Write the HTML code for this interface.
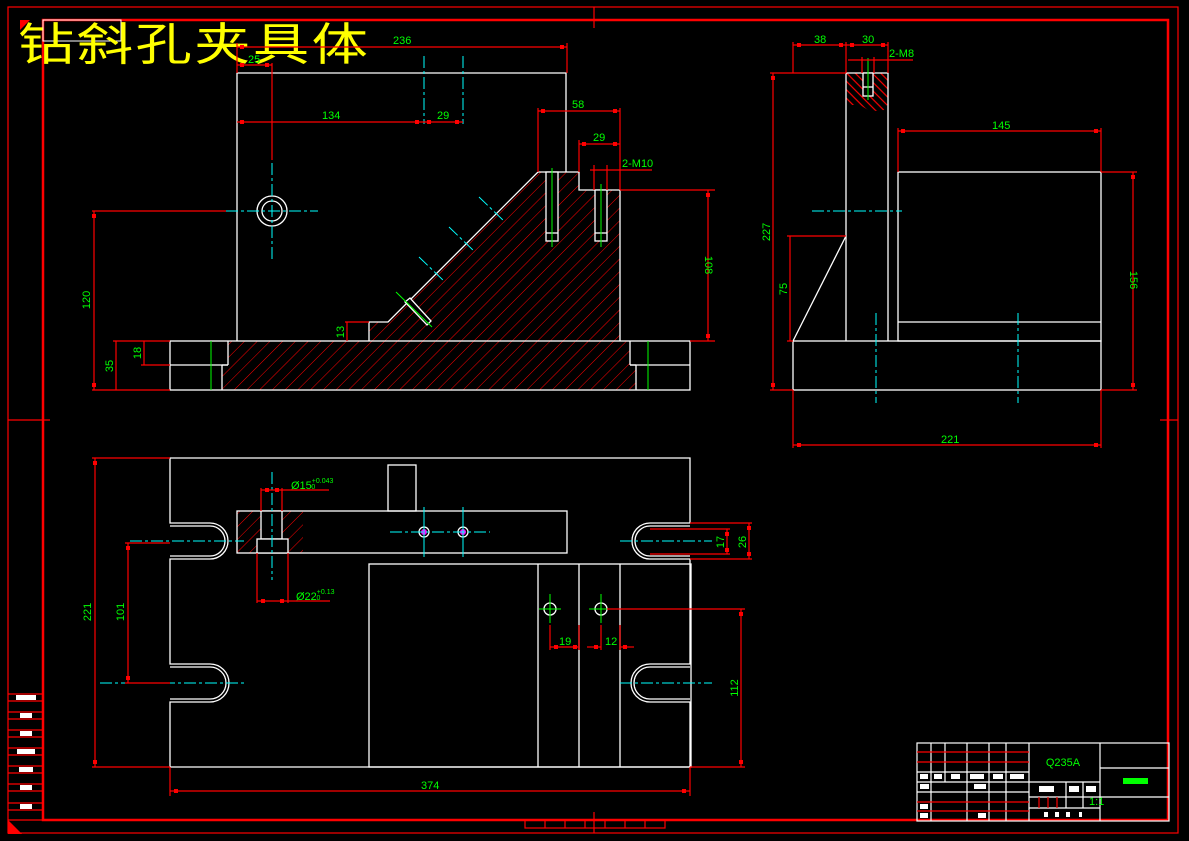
<!DOCTYPE html>
<html><head><meta charset="utf-8"><style>
html,body{margin:0;padding:0;background:#000;width:1189px;height:841px;overflow:hidden}
svg{display:block}
.w{stroke:#fff;stroke-width:1.3;fill:none}
.r{stroke:#f00;stroke-width:1.2;fill:none}
.c{stroke:#0ff;stroke-width:1;fill:none;stroke-dasharray:12 3 3 3}
.g{stroke:#0f0;stroke-width:1;fill:none}
.t{fill:#0f0;font-family:"Liberation Sans Narrow","Liberation Sans",sans-serif;font-size:11px}
</style></head><body>
<svg width="1189" height="841" viewBox="0 0 1189 841" xmlns="http://www.w3.org/2000/svg">
<defs>
<pattern id="h" width="9" height="9" patternUnits="userSpaceOnUse" patternTransform="rotate(45)">
<line x1="0" y1="0" x2="0" y2="9" stroke="#f00" stroke-width="1"/>
</pattern>
<pattern id="h2" width="6" height="6" patternUnits="userSpaceOnUse" patternTransform="rotate(-45)">
<line x1="1" y1="0" x2="1" y2="6" stroke="#f00" stroke-width="1.2"/>
</pattern>
</defs>
<!-- frame -->
<rect x="8" y="7" width="1170" height="826" class="r"/>
<rect x="43" y="20" width="1125" height="800" fill="none" stroke="#f00" stroke-width="2.5"/>
<line x1="594" y1="7" x2="594" y2="28" class="r"/><line x1="594" y1="812" x2="594" y2="833" class="r"/>
<line x1="8" y1="420" x2="50" y2="420" class="r"/><line x1="1160" y1="420" x2="1178" y2="420" class="r"/>
<polygon points="8,820 8,834 22,834" fill="#f00"/>
<polygon points="20,20 30,20 20,30" fill="#f00"/>
<rect x="525" y="820" width="140" height="8" class="r"/>
<g class="r"><line x1="545" y1="820" x2="545" y2="828"/><line x1="565" y1="820" x2="565" y2="828"/><line x1="585" y1="820" x2="585" y2="828"/><line x1="605" y1="820" x2="605" y2="828"/><line x1="625" y1="820" x2="625" y2="828"/><line x1="645" y1="820" x2="645" y2="828"/></g>
<!-- left small table -->
<g class="r">
<line x1="8" y1="694" x2="43" y2="694"/><line x1="8" y1="701" x2="43" y2="701"/>
<line x1="8" y1="712" x2="43" y2="712"/><line x1="8" y1="719" x2="43" y2="719"/>
<line x1="8" y1="730" x2="43" y2="730"/><line x1="8" y1="737" x2="43" y2="737"/>
<line x1="8" y1="748" x2="43" y2="748"/><line x1="8" y1="755" x2="43" y2="755"/>
<line x1="8" y1="766" x2="43" y2="766"/><line x1="8" y1="773" x2="43" y2="773"/>
<line x1="8" y1="784" x2="43" y2="784"/><line x1="8" y1="791" x2="43" y2="791"/>
<line x1="8" y1="803" x2="43" y2="803"/><line x1="8" y1="810" x2="43" y2="810"/>
<line x1="8" y1="820" x2="43" y2="820"/>
</g>
<g fill="#fff"><rect x="16" y="695" width="20" height="5"/><rect x="20" y="713" width="12" height="5"/><rect x="20" y="731" width="12" height="5"/><rect x="17" y="749" width="18" height="5"/><rect x="19" y="767" width="14" height="5"/><rect x="20" y="785" width="12" height="5"/><rect x="20" y="804" width="12" height="5"/></g>

<!-- title -->
<rect x="43" y="20" width="78" height="21" fill="none" stroke="#fff" stroke-width="1"/>
<text transform="translate(18,60) scale(1.25,1)" fill="#ff0" font-family="'Noto Sans CJK SC','WenQuanYi Zen Hei',sans-serif" font-size="45" letter-spacing="2">钻斜孔夹具体</text>

<!-- FRONT VIEW -->
<polygon points="228,341 369,341 369,322 388,322 538,172 579,172 579,190 620,190 620,341 630,341 630,365 636,365 636,390 222,390 222,365 228,365" fill="url(#h)"/>
<g class="w">
<polyline points="237,341 237,73 566,73 566,172"/>
<polyline points="369,341 369,322 388,322 538,172 579,172 579,190 620,190 620,341"/>
<rect x="170" y="341" width="520" height="49"/>
<line x1="170" y1="365" x2="228" y2="365"/><line x1="228" y1="341" x2="228" y2="365"/><line x1="222" y1="365" x2="222" y2="390"/><line x1="222" y1="365" x2="228" y2="365"/>
<line x1="630" y1="365" x2="690" y2="365"/><line x1="630" y1="341" x2="630" y2="365"/><line x1="636" y1="365" x2="636" y2="390"/><line x1="630" y1="365" x2="636" y2="365"/>
<circle cx="272" cy="211" r="15"/><circle cx="272" cy="211" r="10"/>
<rect x="546" y="172" width="12" height="69" fill="#000"/><line x1="546" y1="233" x2="558" y2="233"/>
<rect x="595" y="190" width="12" height="51" fill="#000"/><line x1="595" y1="233" x2="607" y2="233"/>
<polygon points="405,302 410,298 431,321 427,325" fill="#000"/>
</g>
<g class="g"><line x1="211" y1="341" x2="211" y2="390"/><line x1="648" y1="341" x2="648" y2="390"/>
<line x1="552" y1="168" x2="552" y2="247"/><line x1="601" y1="184" x2="601" y2="247"/><line x1="396" y1="292" x2="432" y2="327"/></g>
<g class="c"><line x1="226" y1="211" x2="318" y2="211"/><line x1="272" y1="163" x2="272" y2="260"/>
<line x1="424" y1="56" x2="424" y2="124"/><line x1="463" y1="56" x2="463" y2="124"/>
<line x1="479" y1="197" x2="505" y2="222"/><line x1="449" y1="227" x2="475" y2="252"/><line x1="419" y1="257" x2="445" y2="282"/></g>
<!-- front dims -->
<g class="r">
<line x1="237" y1="47" x2="567" y2="47"/><line x1="567" y1="43" x2="567" y2="73"/><line x1="237" y1="43" x2="237" y2="73"/>
<line x1="237" y1="65" x2="272" y2="65"/><line x1="272" y1="63" x2="272" y2="160"/>
<line x1="237" y1="122" x2="463" y2="122"/>
<line x1="538" y1="108" x2="538" y2="172"/><line x1="538" y1="111" x2="620" y2="111"/><line x1="620" y1="108" x2="620" y2="190"/>
<line x1="579" y1="144" x2="620" y2="144"/><line x1="579" y1="140" x2="579" y2="172"/>
<line x1="590" y1="170" x2="652" y2="170"/><line x1="594" y1="165" x2="594" y2="190"/><line x1="607" y1="165" x2="607" y2="190"/>
<line x1="620" y1="190" x2="715" y2="190"/><line x1="708" y1="190" x2="708" y2="341"/><line x1="690" y1="341" x2="715" y2="341"/>
<line x1="92" y1="211" x2="226" y2="211"/><line x1="94" y1="211" x2="94" y2="390"/><line x1="92" y1="390" x2="170" y2="390"/>
<line x1="113" y1="341" x2="170" y2="341"/><line x1="116" y1="341" x2="116" y2="390"/>
<line x1="141" y1="365" x2="170" y2="365"/><line x1="144" y1="341" x2="144" y2="365"/>
<line x1="345" y1="322" x2="369" y2="322"/><line x1="347" y1="322" x2="347" y2="341"/>
</g>
<g fill="#f00">
<rect x="240" y="45" width="4" height="4"/><rect x="560" y="45" width="4" height="4"/>
<rect x="240" y="63" width="4" height="4"/><rect x="265" y="63" width="4" height="4"/>
<rect x="240" y="120" width="4" height="4"/><rect x="415" y="120" width="4" height="4"/><rect x="427" y="120" width="4" height="4"/><rect x="455" y="120" width="4" height="4"/>
<rect x="541" y="109" width="4" height="4"/><rect x="613" y="109" width="4" height="4"/><rect x="582" y="142" width="4" height="4"/><rect x="613" y="142" width="4" height="4"/>
<rect x="706" y="193" width="4" height="4"/><rect x="706" y="334" width="4" height="4"/>
<rect x="92" y="214" width="4" height="4"/><rect x="92" y="383" width="4" height="4"/>
</g>
<g class="t">
<text x="393" y="44">236</text><text x="248" y="63">25</text><text x="322" y="119">134</text><text x="437" y="119">29</text>
<text x="572" y="108">58</text><text x="593" y="141">29</text><text x="622" y="167">2-M10</text>
<text transform="translate(705,265) rotate(90)" text-anchor="middle">108</text>
<text transform="translate(90,300) rotate(-90)" text-anchor="middle">120</text>
<text transform="translate(113,366) rotate(-90)" text-anchor="middle">35</text>
<text transform="translate(141,353) rotate(-90)" text-anchor="middle">18</text>
<text transform="translate(344,332) rotate(-90)" text-anchor="middle">13</text>
</g>

<!-- RIGHT VIEW -->
<polygon points="846,73 888,73 888,104 884,110 877,111 868,110 860,105 848,105 846,102" fill="url(#h2)"/>
<g class="w">
<rect x="793" y="341" width="308" height="49"/>
<polyline points="846,341 846,73 888,73 888,341"/>
<polyline points="793,341 846,236"/>
<rect x="898" y="172" width="203" height="169"/>
<line x1="898" y1="322" x2="1101" y2="322"/>
<rect x="863" y="73" width="10" height="23" fill="#000"/><line x1="863" y1="87" x2="873" y2="87"/>
</g>
<g class="g"><line x1="868" y1="58" x2="868" y2="100"/></g>
<g class="c"><line x1="812" y1="211" x2="902" y2="211"/><line x1="876" y1="313" x2="876" y2="403"/><line x1="1018" y1="313" x2="1018" y2="403"/></g>
<g class="r">
<line x1="793" y1="42" x2="793" y2="73"/><line x1="793" y1="45" x2="888" y2="45"/><line x1="846" y1="42" x2="846" y2="73"/><line x1="888" y1="42" x2="888" y2="73"/>
<line x1="848" y1="60" x2="913" y2="60"/><line x1="862" y1="57" x2="862" y2="73"/><line x1="874" y1="57" x2="874" y2="73"/>
<line x1="770" y1="73" x2="846" y2="73"/><line x1="773" y1="73" x2="773" y2="390"/><line x1="770" y1="390" x2="793" y2="390"/>
<line x1="787" y1="236" x2="846" y2="236"/><line x1="790" y1="236" x2="790" y2="341"/><line x1="787" y1="341" x2="793" y2="341"/>
<line x1="898" y1="128" x2="898" y2="172"/><line x1="898" y1="131" x2="1101" y2="131"/><line x1="1101" y1="128" x2="1101" y2="172"/>
<line x1="1101" y1="172" x2="1137" y2="172"/><line x1="1133" y1="172" x2="1133" y2="390"/><line x1="1101" y1="390" x2="1137" y2="390"/>
<line x1="793" y1="390" x2="793" y2="448"/><line x1="1101" y1="390" x2="1101" y2="448"/><line x1="793" y1="445" x2="1101" y2="445"/>
</g>
<g fill="#f00">
<rect x="797" y="43" width="4" height="4"/><rect x="839" y="43" width="4" height="4"/><rect x="850" y="43" width="4" height="4"/><rect x="881" y="43" width="4" height="4"/>
<rect x="771" y="76" width="4" height="4"/><rect x="771" y="383" width="4" height="4"/>
<rect x="901" y="129" width="4" height="4"/><rect x="1094" y="129" width="4" height="4"/>
<rect x="1131" y="175" width="4" height="4"/><rect x="1131" y="383" width="4" height="4"/>
<rect x="797" y="443" width="4" height="4"/><rect x="1094" y="443" width="4" height="4"/>
</g>
<g class="t">
<text x="814" y="43">38</text><text x="862" y="43">30</text><text x="889" y="57">2-M8</text>
<text x="992" y="129">145</text><text x="941" y="443">221</text>
<text transform="translate(770,232) rotate(-90)" text-anchor="middle">227</text>
<text transform="translate(787,289) rotate(-90)" text-anchor="middle">75</text>
<text transform="translate(1130,280) rotate(90)" text-anchor="middle">156</text>
</g>

<!-- TOP VIEW -->
<rect x="237" y="511" width="66" height="42" fill="url(#h)"/>
<g class="w">
<path d="M170,458 H690 V523 H650 A18,18 0 0 0 650,559 H690 V664 H650 A19,19 0 0 0 650,702 H690 V767 H170 V702 H210 A19,19 0 0 0 210,664 H170 V559 H210 A18,18 0 0 0 210,523 H170 Z"/>
<path d="M170,526 H210 A15,15 0 0 1 210,556 H170"/>
<path d="M170,667 H210 A16,16 0 0 1 210,699 H170"/>
<path d="M690,526 H650 A15,15 0 0 0 650,556 H690"/>
<path d="M690,667 H650 A16,16 0 0 0 650,699 H690"/>
<rect x="388" y="465" width="28" height="46"/>
<rect x="237" y="511" width="330" height="42"/>
<rect x="261" y="511" width="21" height="28" fill="#000"/>
<rect x="257" y="539" width="31" height="14" fill="#000"/>
<rect x="369" y="564" width="322" height="203"/>
<line x1="538" y1="564" x2="538" y2="767"/><line x1="579" y1="564" x2="579" y2="767"/><line x1="620" y1="564" x2="620" y2="767"/>
<circle cx="550" cy="609" r="6"/><circle cx="601" cy="609" r="6"/>
<circle cx="424" cy="532" r="5"/><circle cx="463" cy="532" r="5"/>
</g>
<circle cx="424" cy="532" r="3" fill="#f0f"/><circle cx="463" cy="532" r="3" fill="#f0f"/>
<g class="c">
<line x1="130" y1="541" x2="244" y2="541"/><line x1="620" y1="541" x2="712" y2="541"/>
<line x1="100" y1="683" x2="244" y2="683"/><line x1="620" y1="683" x2="712" y2="683"/>
<line x1="272" y1="472" x2="272" y2="580"/>
<line x1="390" y1="532" x2="490" y2="532"/><line x1="424" y1="507" x2="424" y2="557" stroke-dasharray="none"/><line x1="463" y1="507" x2="463" y2="557" stroke-dasharray="none"/>
</g>
<g class="g"><line x1="539" y1="609" x2="561" y2="609"/><line x1="550" y1="594" x2="550" y2="623"/><line x1="589" y1="609" x2="615" y2="609"/><line x1="601" y1="594" x2="601" y2="623"/></g>
<g class="r">
<line x1="261" y1="490" x2="329" y2="490"/><line x1="261" y1="488" x2="261" y2="511"/><line x1="282" y1="488" x2="282" y2="511"/>
<line x1="257" y1="553" x2="257" y2="603"/><line x1="288" y1="553" x2="288" y2="603"/><line x1="257" y1="601" x2="330" y2="601"/>
<line x1="690" y1="523" x2="752" y2="523"/><line x1="690" y1="559" x2="752" y2="559"/><line x1="749" y1="523" x2="749" y2="559"/>
<line x1="650" y1="529" x2="730" y2="529"/><line x1="650" y1="554" x2="730" y2="554"/><line x1="727" y1="529" x2="727" y2="554"/>
<line x1="92" y1="458" x2="170" y2="458"/><line x1="95" y1="458" x2="95" y2="767"/><line x1="92" y1="767" x2="170" y2="767"/>
<line x1="125" y1="543" x2="170" y2="543"/><line x1="128" y1="543" x2="128" y2="683"/><line x1="125" y1="683" x2="170" y2="683"/>
<line x1="170" y1="767" x2="170" y2="796"/><line x1="690" y1="767" x2="690" y2="796"/><line x1="170" y1="791" x2="690" y2="791"/>
<line x1="607" y1="609" x2="745" y2="609"/><line x1="741" y1="609" x2="741" y2="767"/><line x1="690" y1="767" x2="745" y2="767"/>
<line x1="550" y1="625" x2="550" y2="650"/><line x1="579" y1="625" x2="579" y2="650"/><line x1="550" y1="647" x2="579" y2="647"/>
<line x1="601" y1="625" x2="601" y2="650"/><line x1="620" y1="625" x2="620" y2="650"/><line x1="587" y1="647" x2="601" y2="647"/><line x1="620" y1="647" x2="634" y2="647"/>
</g>
<g fill="#f00">
<rect x="265" y="488" width="4" height="4"/><rect x="275" y="488" width="4" height="4"/>
<rect x="261" y="599" width="4" height="4"/><rect x="280" y="599" width="4" height="4"/>
<rect x="747" y="526" width="4" height="4"/><rect x="747" y="552" width="4" height="4"/><rect x="725" y="532" width="4" height="4"/><rect x="725" y="548" width="4" height="4"/>
<rect x="93" y="461" width="4" height="4"/><rect x="93" y="760" width="4" height="4"/>
<rect x="126" y="546" width="4" height="4"/><rect x="126" y="676" width="4" height="4"/>
<rect x="174" y="789" width="4" height="4"/><rect x="682" y="789" width="4" height="4"/>
<rect x="739" y="612" width="4" height="4"/><rect x="739" y="760" width="4" height="4"/>
<rect x="554" y="645" width="4" height="4"/><rect x="573" y="645" width="4" height="4"/><rect x="594" y="645" width="4" height="4"/><rect x="623" y="645" width="4" height="4"/>
</g>
<g class="t">
<text x="291" y="489">Ø15<tspan font-size="7" dy="-6">+0.043</tspan><tspan font-size="7" dx="-22" dy="6">0</tspan></text>
<text x="296" y="600">Ø22<tspan font-size="7" dy="-6">+0.13</tspan><tspan font-size="7" dx="-18" dy="6">0</tspan></text>
<text x="559" y="645">19</text><text x="605" y="645">12</text><text x="421" y="789">374</text>
<text transform="translate(91,612) rotate(-90)" text-anchor="middle">221</text>
<text transform="translate(124,612) rotate(-90)" text-anchor="middle">101</text>
<text transform="translate(738,688) rotate(-90)" text-anchor="middle">112</text>
<text transform="translate(724,542) rotate(-90)" text-anchor="middle">17</text>
<text transform="translate(746,542) rotate(-90)" text-anchor="middle">26</text>
</g>

<!-- TITLE BLOCK -->
<g stroke="#fff" stroke-width="1.2" fill="none">
<rect x="917" y="743" width="252" height="78"/>
<line x1="1029" y1="743" x2="1029" y2="821"/><line x1="1100" y1="743" x2="1100" y2="821"/>
<line x1="917" y1="772" x2="1029" y2="772"/><line x1="917" y1="782" x2="1100" y2="782"/><line x1="917" y1="792" x2="1029" y2="792"/>
<line x1="1029" y1="797" x2="1100" y2="797"/><line x1="1029" y1="808" x2="1100" y2="808"/>
<line x1="1100" y1="768" x2="1169" y2="768"/><line x1="1100" y1="797" x2="1169" y2="797"/>
<line x1="1066" y1="782" x2="1066" y2="808"/><line x1="1083" y1="782" x2="1083" y2="808"/>
<line x1="931" y1="743" x2="931" y2="821"/><line x1="945" y1="743" x2="945" y2="782"/><line x1="967" y1="743" x2="967" y2="821"/>
<line x1="989" y1="743" x2="989" y2="821"/><line x1="1006" y1="743" x2="1006" y2="821"/>
</g>
<g class="r"><line x1="917" y1="752" x2="1029" y2="752"/><line x1="917" y1="762" x2="1029" y2="762"/><line x1="917" y1="802" x2="1029" y2="802"/><line x1="917" y1="811" x2="1029" y2="811"/>
<line x1="1039" y1="797" x2="1039" y2="808"/><line x1="1048" y1="797" x2="1048" y2="808"/><line x1="1057" y1="797" x2="1057" y2="808"/></g>
<g fill="#fff"><rect x="920" y="774" width="8" height="5"/><rect x="934" y="774" width="8" height="5"/><rect x="951" y="774" width="9" height="5"/><rect x="970" y="774" width="14" height="5"/><rect x="993" y="774" width="10" height="5"/><rect x="1010" y="774" width="14" height="5"/>
<rect x="920" y="784" width="9" height="5"/><rect x="974" y="784" width="12" height="5"/><rect x="920" y="804" width="8" height="5"/><rect x="920" y="813" width="8" height="5"/><rect x="978" y="813" width="8" height="5"/>
<rect x="1039" y="786" width="15" height="6"/><rect x="1069" y="786" width="10" height="6"/><rect x="1086" y="786" width="10" height="6"/>
<rect x="1044" y="812" width="4" height="5"/><rect x="1055" y="812" width="4" height="5"/><rect x="1066" y="812" width="4" height="5"/><rect x="1079" y="812" width="3" height="5"/></g>
<text x="1063" y="766" class="t" text-anchor="middle" font-size="9">Q235A</text>
<rect x="1123" y="778" width="25" height="6" fill="#0f0"/>
<text x="1089" y="805" class="t" font-size="8">1:1</text>
</svg>
</body></html>
